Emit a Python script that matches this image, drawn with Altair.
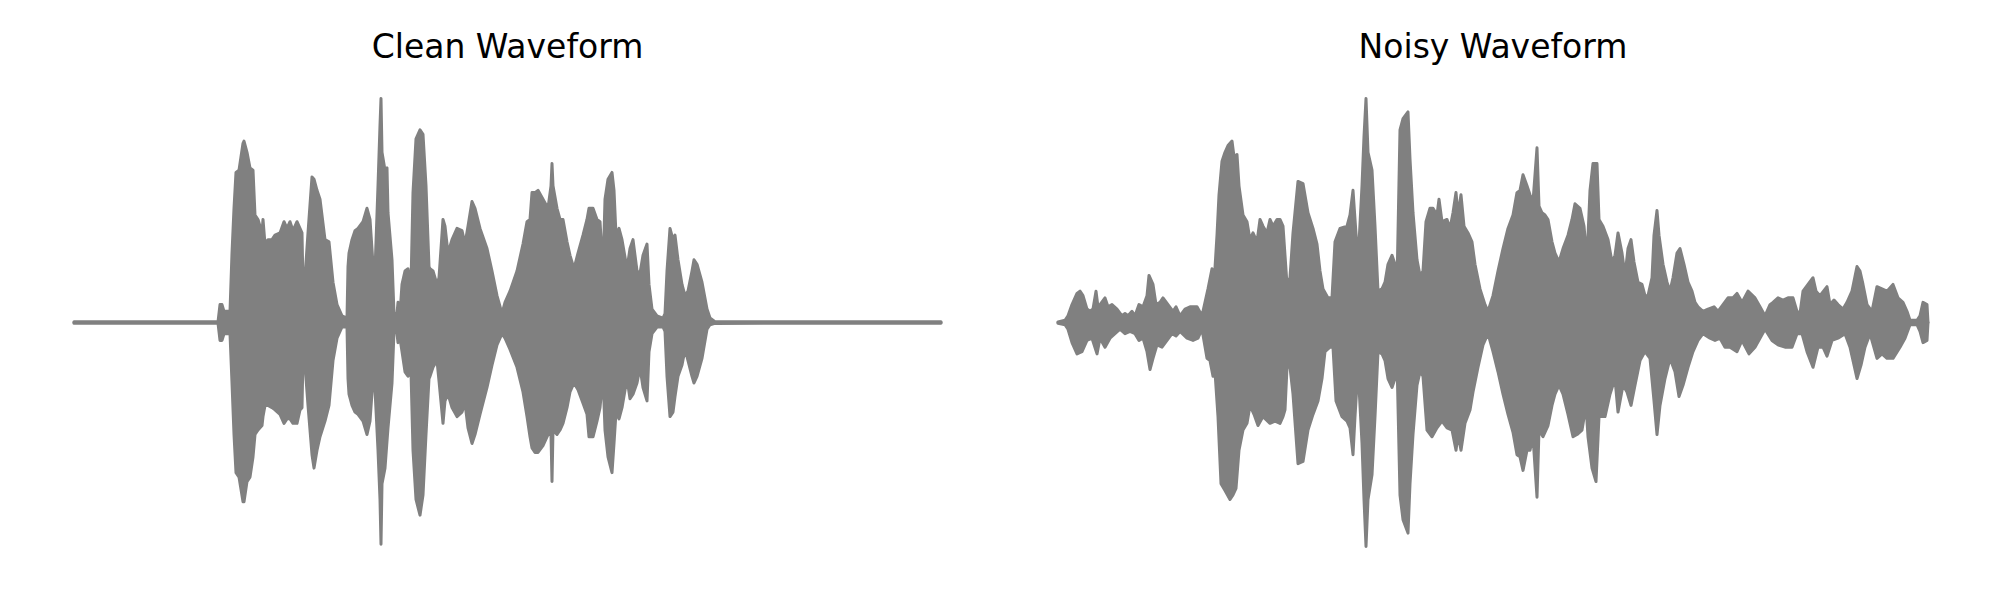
import altair as alt
import pandas as pd

# ---------------- data (time in frames, amplitude normalised) ----------------
clean_t = [0, 144, 146, 148, 150, 156, 158, 160, 162, 165, 169, 170, 173, 176, 179, 181, 184, 188, 189, 191,
           194, 198, 201, 206, 210, 213, 216, 219, 223, 226, 228, 229, 231, 234, 238, 240, 243, 246, 251, 255,
           259, 263, 268, 273, 274, 275, 278, 281, 284, 289, 293, 296, 299, 301, 304, 306, 307, 308, 311, 313,
           314, 318, 320, 323, 324, 326, 328, 331, 334, 337, 339, 342, 346, 349, 352, 355, 356, 359, 363, 365,
           369, 371, 374, 378, 383, 388, 391, 394, 398, 401, 406, 413, 418, 423, 428, 431, 436, 443, 449, 453,
           456, 458, 461, 464, 469, 474, 477, 478, 479, 483, 486, 489, 493, 496, 500, 504, 509, 513, 515, 519,
           523, 526, 529, 531, 534, 538, 540, 542, 545, 548, 553, 556, 559, 563, 566, 569, 573, 575, 578, 583,
           589, 591, 593, 596, 599, 601, 604, 608, 611, 614, 618, 620, 623, 628, 633, 636, 641, 867]
clean_upper = [0.003, 0.003, 0.08, 0.08, 0.05, 0.05, 0.31, 0.51, 0.67, 0.68, 0.80, 0.81, 0.76, 0.69, 0.68, 0.48, 0.46, 0.40, 0.46, 0.35,
               0.37, 0.37, 0.39, 0.40, 0.45, 0.42, 0.45, 0.41, 0.45, 0.42, 0.40, 0.17, 0.20, 0.40, 0.65, 0.64, 0.59, 0.55, 0.37, 0.36,
               0.18, 0.08, 0.03, 0.02, 0.25, 0.31, 0.37, 0.41, 0.42, 0.45, 0.51, 0.46, 0.26, 0.23, 0.61, 0.88, 1.00, 0.76, 0.68, 0.69,
               0.49, 0.28, 0.04, 0.04, 0.09, 0.04, 0.17, 0.23, 0.24, 0.17, 0.58, 0.82, 0.86, 0.84, 0.61, 0.25, 0.24, 0.23, 0.17, 0.20,
               0.46, 0.43, 0.31, 0.37, 0.42, 0.41, 0.35, 0.43, 0.54, 0.51, 0.42, 0.33, 0.23, 0.12, 0.04, 0.09, 0.14, 0.23, 0.35, 0.45,
               0.46, 0.58, 0.58, 0.59, 0.55, 0.51, 0.61, 0.71, 0.61, 0.51, 0.46, 0.46, 0.36, 0.30, 0.24, 0.31, 0.39, 0.46, 0.51, 0.51,
               0.46, 0.45, 0.23, 0.55, 0.64, 0.67, 0.59, 0.39, 0.42, 0.37, 0.24, 0.33, 0.37, 0.23, 0.22, 0.30, 0.35, 0.17, 0.06, 0.03,
               0.02, 0.04, 0.23, 0.42, 0.37, 0.39, 0.28, 0.17, 0.12, 0.14, 0.23, 0.28, 0.26, 0.18, 0.06, 0.02, 0.004, 0.003]
clean_lower = [-0.003, -0.003, -0.08, -0.08, -0.05, -0.05, -0.27, -0.50, -0.67, -0.69, -0.80, -0.80, -0.71, -0.69, -0.60, -0.50, -0.48, -0.46, -0.42, -0.37,
               -0.37, -0.38, -0.39, -0.41, -0.45, -0.43, -0.43, -0.45, -0.45, -0.39, -0.38, -0.15, -0.19, -0.37, -0.59, -0.65, -0.57, -0.51, -0.44, -0.37,
               -0.17, -0.07, -0.02, -0.02, -0.25, -0.32, -0.37, -0.40, -0.41, -0.44, -0.50, -0.44, -0.25, -0.30, -0.57, -0.79, -0.99, -0.72, -0.65, -0.53,
               -0.47, -0.27, -0.04, -0.05, -0.09, -0.07, -0.13, -0.22, -0.24, -0.22, -0.57, -0.79, -0.86, -0.77, -0.50, -0.25, -0.24, -0.20, -0.17, -0.26,
               -0.45, -0.35, -0.32, -0.38, -0.42, -0.40, -0.36, -0.47, -0.54, -0.50, -0.41, -0.29, -0.19, -0.10, -0.05, -0.07, -0.12, -0.20, -0.31, -0.42,
               -0.51, -0.56, -0.58, -0.58, -0.55, -0.50, -0.50, -0.71, -0.48, -0.50, -0.48, -0.45, -0.38, -0.31, -0.27, -0.30, -0.36, -0.41, -0.51, -0.51,
               -0.44, -0.38, -0.24, -0.48, -0.60, -0.67, -0.54, -0.40, -0.43, -0.38, -0.25, -0.34, -0.32, -0.27, -0.20, -0.29, -0.35, -0.13, -0.05, -0.02,
               -0.02, -0.04, -0.24, -0.42, -0.40, -0.33, -0.24, -0.19, -0.12, -0.17, -0.24, -0.27, -0.24, -0.16, -0.03, -0.01, -0.004, -0.003]

noisy_upper_t = [0, 7, 10, 14, 19, 22, 25, 29, 32, 35, 38, 40, 42, 47, 50, 54, 59, 64, 67, 70,
                 74, 77, 81, 85, 89, 91, 95, 98, 102, 105, 110, 115, 118, 122, 127, 132, 139, 144, 147, 150,
                 154, 156, 159, 161, 164, 167, 170, 174, 176, 179, 181, 185, 189, 192, 195, 199, 202, 205, 209, 212,
                 215, 219, 222, 225, 229, 232, 235, 240, 245, 250, 255, 259, 262, 265, 270, 274, 277, 282, 289, 292,
                 295, 297, 300, 304, 306, 308, 310, 314, 317, 320, 324, 327, 330, 334, 337, 339, 342, 345, 350, 352,
                 355, 359, 362, 365, 368, 372, 375, 379, 381, 384, 389, 392, 395, 398, 400, 403, 406, 410, 414, 417,
                 422, 427, 430, 435, 440, 445, 450, 455, 459, 462, 465, 469, 472, 475, 479, 481, 484, 487, 490, 494,
                 497, 501, 505, 510, 514, 517, 522, 526, 529, 532, 535, 539, 541, 545, 550, 554, 557, 560, 564, 567,
                 570, 573, 576, 580, 584, 587, 590, 594, 596, 599, 601, 605, 609, 612, 615, 619, 622, 626, 630, 634,
                 637, 640, 645, 650, 656, 660, 665, 670, 675, 679, 684, 690, 697, 702, 707, 712, 715, 720, 725, 730,
                 735, 739, 742, 745, 750, 755, 758, 762, 769, 772, 776, 780, 785, 789, 794, 799, 802, 805, 809, 814,
                 819, 824, 829, 835, 840, 845, 849, 852, 859, 862, 865, 869, 870]
noisy_upper = [0.003, 0.01, 0.03, 0.08, 0.13, 0.14, 0.12, 0.06, 0.05, 0.06, 0.14, 0.07, 0.08, 0.11, 0.07, 0.08, 0.06, 0.03, 0.04, 0.03,
               0.05, 0.03, 0.08, 0.07, 0.12, 0.21, 0.17, 0.08, 0.09, 0.11, 0.08, 0.05, 0.07, 0.03, 0.06, 0.07, 0.07, 0.03, 0.09, 0.15,
               0.24, 0.17, 0.39, 0.57, 0.72, 0.76, 0.79, 0.81, 0.74, 0.75, 0.61, 0.48, 0.45, 0.37, 0.40, 0.36, 0.46, 0.43, 0.40, 0.46,
               0.43, 0.46, 0.46, 0.43, 0.17, 0.20, 0.40, 0.63, 0.62, 0.49, 0.42, 0.35, 0.23, 0.15, 0.11, 0.11, 0.36, 0.42, 0.43, 0.48,
               0.59, 0.46, 0.27, 0.61, 0.83, 1.00, 0.76, 0.68, 0.43, 0.14, 0.15, 0.18, 0.26, 0.30, 0.26, 0.17, 0.86, 0.91, 0.94, 0.73,
               0.49, 0.28, 0.21, 0.23, 0.45, 0.51, 0.51, 0.48, 0.55, 0.45, 0.46, 0.42, 0.49, 0.58, 0.48, 0.57, 0.43, 0.40, 0.36, 0.26,
               0.15, 0.08, 0.05, 0.12, 0.23, 0.33, 0.42, 0.48, 0.58, 0.59, 0.66, 0.61, 0.57, 0.54, 0.78, 0.52, 0.49, 0.48, 0.46, 0.36,
               0.31, 0.27, 0.33, 0.39, 0.46, 0.53, 0.51, 0.43, 0.28, 0.59, 0.71, 0.71, 0.46, 0.43, 0.37, 0.27, 0.30, 0.40, 0.31, 0.21,
               0.33, 0.37, 0.27, 0.18, 0.17, 0.12, 0.12, 0.20, 0.39, 0.50, 0.39, 0.26, 0.18, 0.14, 0.20, 0.31, 0.33, 0.26, 0.18, 0.14,
               0.09, 0.07, 0.05, 0.06, 0.07, 0.05, 0.08, 0.11, 0.11, 0.13, 0.09, 0.14, 0.11, 0.07, 0.03, 0.08, 0.09, 0.11, 0.10, 0.11,
               0.11, 0.05, 0.04, 0.14, 0.17, 0.20, 0.14, 0.12, 0.16, 0.08, 0.10, 0.08, 0.06, 0.09, 0.14, 0.25, 0.23, 0.17, 0.08, 0.05,
               0.16, 0.15, 0.14, 0.17, 0.11, 0.09, 0.05, 0.01, 0.01, 0.03, 0.09, 0.08, 0.0]

noisy_lower_t = [0, 7, 10, 14, 19, 24, 29, 34, 39, 42, 47, 52, 57, 62, 67, 72, 77, 81, 85, 89,
                 92, 95, 99, 104, 109, 114, 118, 122, 129, 135, 140, 144, 149, 152, 155, 157, 160, 163, 167, 172,
                 175, 178, 181, 185, 189, 192, 196, 200, 205, 212, 217, 222, 225, 227, 229, 232, 235, 240, 245, 250,
                 255, 260, 264, 267, 272, 275, 278, 284, 289, 292, 295, 297, 300, 304, 306, 308, 310, 314, 317, 320,
                 324, 327, 330, 334, 337, 339, 342, 345, 350, 352, 355, 359, 362, 365, 369, 374, 379, 384, 389, 394,
                 398, 400, 403, 407, 412, 415, 420, 425, 430, 435, 440, 445, 450, 455, 459, 462, 465, 469, 472, 475,
                 479, 481, 485, 490, 494, 497, 501, 505, 510, 515, 519, 524, 528, 530, 534, 538, 541, 547, 552, 557,
                 560, 565, 569, 573, 577, 582, 587, 592, 596, 599, 602, 607, 612, 617, 621, 625, 630, 635, 640, 645,
                 652, 657, 662, 667, 672, 679, 684, 691, 697, 702, 707, 714, 720, 727, 734, 739, 744, 749, 755, 760,
                 765, 769, 774, 780, 787, 792, 799, 803, 807, 812, 819, 824, 829, 835, 842, 847, 852, 859, 862, 865,
                 869, 870]
noisy_lower = [-0.003, -0.01, -0.03, -0.09, -0.14, -0.13, -0.08, -0.07, -0.14, -0.07, -0.11, -0.07, -0.05, -0.03, -0.05, -0.04, -0.05, -0.08, -0.07, -0.13,
               -0.21, -0.16, -0.10, -0.11, -0.08, -0.05, -0.06, -0.04, -0.07, -0.08, -0.07, -0.03, -0.16, -0.17, -0.24, -0.22, -0.42, -0.72, -0.75, -0.79,
               -0.77, -0.74, -0.57, -0.48, -0.45, -0.37, -0.41, -0.46, -0.42, -0.45, -0.44, -0.45, -0.42, -0.39, -0.20, -0.20, -0.32, -0.63, -0.62, -0.48,
               -0.41, -0.35, -0.25, -0.13, -0.11, -0.11, -0.35, -0.42, -0.44, -0.47, -0.59, -0.42, -0.20, -0.54, -0.79, -1.00, -0.79, -0.68, -0.42, -0.13,
               -0.14, -0.17, -0.25, -0.29, -0.25, -0.17, -0.77, -0.88, -0.94, -0.72, -0.50, -0.28, -0.22, -0.24, -0.48, -0.51, -0.47, -0.44, -0.47, -0.48,
               -0.57, -0.50, -0.57, -0.45, -0.39, -0.31, -0.20, -0.10, -0.05, -0.13, -0.22, -0.32, -0.41, -0.49, -0.59, -0.60, -0.66, -0.57, -0.57, -0.51,
               -0.78, -0.48, -0.51, -0.46, -0.37, -0.32, -0.28, -0.32, -0.41, -0.51, -0.50, -0.48, -0.37, -0.51, -0.65, -0.71, -0.42, -0.42, -0.32, -0.25,
               -0.40, -0.28, -0.31, -0.37, -0.28, -0.17, -0.13, -0.16, -0.35, -0.50, -0.37, -0.25, -0.16, -0.22, -0.33, -0.28, -0.20, -0.13, -0.08, -0.05,
               -0.07, -0.08, -0.07, -0.11, -0.11, -0.13, -0.08, -0.14, -0.11, -0.07, -0.03, -0.08, -0.10, -0.11, -0.11, -0.05, -0.05, -0.13, -0.20, -0.11,
               -0.11, -0.15, -0.08, -0.07, -0.05, -0.11, -0.25, -0.19, -0.11, -0.05, -0.16, -0.14, -0.16, -0.16, -0.11, -0.07, -0.01, -0.01, -0.04, -0.09,
               -0.08, 0.0]

titles = ["Clean Waveform", "Noisy Waveform"]

# ---------------- styling / layout ----------------
GRAY = "#808080"
PANEL_W, PANEL_H = 992, 584
Y_DOMAIN = [-1.203, 1.404]
X_DOMAINS = [[-66, 926], [-58, 934]]


def env(t, a):
    return pd.DataFrame({"t": t, "a": a, "z": [0.0] * len(t)})


def panel(upper_df, lower_df, title, x_domain):
    xs = alt.Scale(domain=x_domain, nice=False, zero=False)
    ys = alt.Scale(domain=Y_DOMAIN, nice=False, zero=False)
    style = dict(fill=GRAY, stroke=GRAY, strokeWidth=3, strokeJoin="round",
                 interpolate="linear", opacity=1)
    layers = []
    for df in (upper_df, lower_df):
        layers.append(
            alt.Chart(df).mark_area(**style).encode(
                x=alt.X("t:Q", scale=xs, axis=None),
                y=alt.Y("a:Q", scale=ys, axis=None),
                y2=alt.Y2("z:Q"),
            )
        )
    centre = (max(upper_df["t"]) + min(upper_df["t"])) / 2
    label = alt.Chart(pd.DataFrame({"title": [title], "t": [centre]})).mark_text(
        font="DejaVu Sans", fontSize=33, color="black", align="center",
        baseline="alphabetic"
    ).encode(
        x=alt.X("t:Q", scale=xs, axis=None),
        y=alt.value(50.3),
        text="title:N",
    )
    return alt.layer(*layers, label).properties(width=PANEL_W, height=PANEL_H)


left = panel(env(clean_t, clean_upper), env(clean_t, clean_lower), titles[0], X_DOMAINS[0])
right = panel(env(noisy_upper_t, noisy_upper), env(noisy_lower_t, noisy_lower), titles[1], X_DOMAINS[1])

chart = alt.hconcat(left, right, spacing=0).properties(
    padding=0, background="white"
).configure_view(stroke=None)

chart.save("out.html", embed_options={"renderer": "svg", "actions": False})
